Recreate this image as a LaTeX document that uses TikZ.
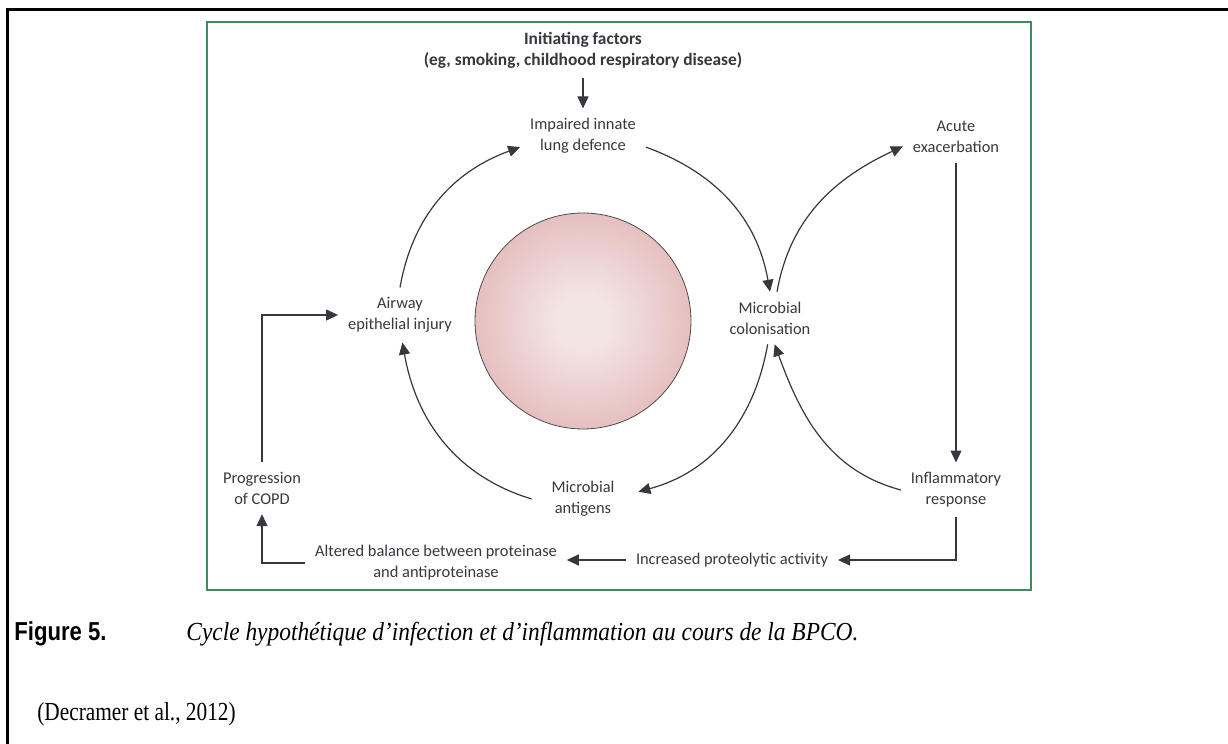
\documentclass[tikz,border=0pt]{standalone}
\usepackage{fontspec}
\newfontfamily\lancet{Carlito}
\newfontfamily\capsans{Liberation Sans}
\newfontfamily\capserif{Liberation Serif}
\usetikzlibrary{arrows.meta,positioning}

\definecolor{framegreen}{RGB}{64,140,96}
\definecolor{inkgray}{RGB}{55,55,62}
\definecolor{discin}{RGB}{244,229,229}
\definecolor{discout}{RGB}{212,142,142}
\pgfdeclareradialshading{discshade}{\pgfpoint{0bp}{0bp}}{color(0bp)=(discin); color(6bp)=(discin); color(50bp)=(discout)}

\begin{document}
\begin{tikzpicture}[
  x=0.5pt, y=0.5pt,
  >={Triangle[length=6pt,width=5.5pt]},
  lbl/.style={align=center, font=\lancet\fontsize{8.2}{10.5}\selectfont, text=inkgray, inner sep=2pt, outer sep=3pt},
  lblbold/.style={lbl, font=\lancet\bfseries\fontsize{8.7}{10.5}\selectfont},
  caption/.style={anchor=west, inner sep=0pt},
  link/.style={->, draw=inkgray, line width=0.6pt}
]
\useasboundingbox (0,0) rectangle (1228,744);
% page frame, figure box, disc
\draw[line width=1.5pt] (7,-5) -- (7,734) -- (1233,734);
\draw[framegreen, line width=0.75pt] (207,154) rectangle (1031,722);
\shade[shading=discshade, draw=black!70, line width=0.4pt] (583,423) circle[radius=108];

\node[lblbold] (init) at (583,694) {Initiating factors\\(eg, smoking, childhood respiratory disease)};
\node[lbl] (imp) at (583,608) {Impaired innate\\lung defence};
\node[lbl] (acu) at (956,607) {Acute\\exacerbation};
\node[lbl] (air) at (400,429) {Airway\\epithelial injury};
\node[lbl] (col) at (770,426) {Microbial\\colonisation};
\node[lbl] (prog) at (262,256) {Progression\\of COPD};
\node[lbl] (ant) at (583,245) {Microbial\\antigens};
\node[lbl] (infl) at (956,254) {Inflammatory\\response};
\node[lbl] (alt) at (436,181) {Altered balance between proteinase\\and antiproteinase};
\node[lbl] (incr) at (732,184) {Increased proteolytic activity};

% caption
\node[caption, font=\capsans\bfseries\fontsize{13}{15}\selectfont] (fig) at (14,110) {\scalebox{0.85}[1]{Figure 5.}};
\node[caption, font=\capserif\itshape\fontsize{13}{15}\selectfont] (cap) at (186,110) {\scalebox{0.9}[1]{Cycle hypothétique d’infection et d’inflammation au cours de la BPCO.}};
\node[caption, font=\capserif\fontsize{13}{15}\selectfont] (src) at (37,30) {\scalebox{0.82}[1]{(Decramer et al., 2012)}};

% cycle
\draw[link] (init) -- (imp);
\draw[link] (air.north) to[out=80, in=200] (imp.190);
\draw[link] (imp.-10) to[out=-20, in=100] (col.north);
\draw[link] (col.75) to[out=80, in=205] (acu.190);
\draw[link] (acu) -- (infl);
\draw[link] (infl.west) to[out=165, in=-70] (col.-80);
\draw[link] (col.-95) to[out=-100, in=15] ([xshift=7pt]ant.10);
\draw[link] ([xshift=-5pt]ant.west) to[out=163, in=-80] (air.-85);
\draw[link] (infl.south) |- (incr.east);
\draw[link] (incr.west) -- (alt.east |- incr.west);
\draw[link] (alt.west) -| (prog.south);
\draw[link] (prog.north) |- (air.west);
\end{tikzpicture}
\end{document}
